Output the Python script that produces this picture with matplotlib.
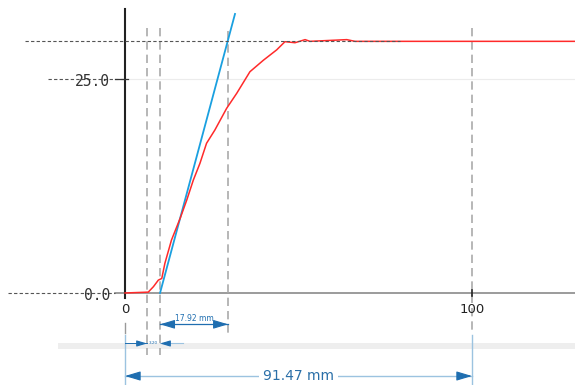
import numpy as np
import matplotlib.pyplot as plt

red_x = [0, 6.7, 8.2, 9.6, 10.6, 11.5, 13.4, 15.9, 17.8, 19.7, 21.6, 23.5, 25.9,
         29.3, 32.2, 36.0, 39.9, 43.7, 46.1, 49.0, 51.9, 53.3, 63.9, 66.3, 129.7]
red_y = [0, 0.1, 0.74, 1.5, 1.7, 3.47, 6.19, 8.73, 10.86, 13.2, 15.15, 17.49, 19.04,
         21.58, 23.33, 25.85, 27.2, 28.4, 29.36, 29.24, 29.6, 29.4, 29.6, 29.4, 29.4]

# tangent line (blue)
tan_x = [10.1, 31.7]
tan_y = [0, 32.6]

plateau = 29.4
guide_x = [6.34, 10.1, 29.7, 100]
yticks = [0, 25]
ytick_labels = ['0.0', '25.0']
xticks = [0, 100]
xtick_labels = ['0', '100']
dim_small = '3.20'
dim_mid = '17.92 mm'
dim_total = '91.47 mm'

dark_blue = '#1f6eb0'
light_blue = '#9cc3e0'


def head(ax, tip, tail, size, color, z=6):
    # filled arrow head only (short shaft hidden under the head)
    ax.annotate('', xy=tip, xytext=tail,
                arrowprops=dict(arrowstyle='-|>,head_length=1.0,head_width=0.3',
                                mutation_scale=size, color=color, lw=0.8,
                                shrinkA=0, shrinkB=0), zorder=z)


fig = plt.figure(figsize=(5.75, 3.85), dpi=100)
ax = fig.add_axes([0, 0, 1, 1])
ax.set_xlim(-36.02, 129.68)
ax.set_ylim(-10.75, 34.23)
ax.axis('off')

# light grid + axis lines
ax.plot([0, 129.7], [25, 25], color='#ececec', lw=0.8, zorder=1)
ax.plot([-2.9, 129.7], [0, 0], color='#8a8a8a', lw=1.2, zorder=2)
ax.plot([0, 0], [-0.6, 33.2], color='#222222', lw=1.5, zorder=4)
ax.plot([0, 0], [-3.5, -4.7], color='#999999', lw=1.0, zorder=2)

# gray band
ax.fill_between([-19.3, 129.7], -6.54, -5.84, color='#eeeeee', lw=0, zorder=1)

# dashed horizontals
ax.plot([-28.8, 79.2], [plateau, plateau], color='#555555', lw=0.8, ls=(0, (3, 2)), zorder=5)
ax.plot([-22.2, 0], [25, 25], color='#555555', lw=0.8, ls=(0, (3, 2)), zorder=2)
ax.plot([-33.7, -2.9], [0, 0], color='#555555', lw=0.8, ls=(0, (3, 2)), zorder=2)

# dashed verticals
ax.plot([guide_x[0]] * 2, [30.96, -7.24], color='#aaaaaa', lw=1.2, ls=(0, (5, 3)), zorder=2)
ax.plot([guide_x[1]] * 2, [30.96, -7.24], color='#aaaaaa', lw=1.2, ls=(0, (5, 3)), zorder=2)
ax.plot([guide_x[2]] * 2, [30.6, -4.67], color='#aaaaaa', lw=1.2, ls=(0, (5, 3)), zorder=2)
ax.plot([guide_x[3]] * 2, [30.96, -4.32], color='#aaaaaa', lw=1.2, ls=(0, (5, 3)), zorder=2)

# curves
ax.plot(red_x, red_y, color='#ff2a2a', lw=1.1, zorder=4)
ax.plot(tan_x, tan_y, color='#1aa0e0', lw=1.3, zorder=3)

# ticks
for yv, lab in zip(yticks, ytick_labels):
    ax.text(-4.3, yv - 0.35, lab, ha='right', va='center', fontsize=10.5,
            family='DejaVu Sans Mono', color='#333333', zorder=6)
ax.plot([-2.9, 0.9], [25, 25], color='#333333', lw=0.9, zorder=5)
for xv, lab in zip(xticks, xtick_labels):
    ax.text(xv, -1.9, lab, ha='center', va='center', fontsize=9.5, color='#222222', zorder=6)
ax.plot([100, 100], [0.35, -0.35], color='#222222', lw=1.2, zorder=5)

# 17.92 mm dimension
ax.plot([guide_x[1], guide_x[2]], [-3.66, -3.66], color=dark_blue, lw=0.9, zorder=5)
head(ax, (guide_x[1], -3.66), (guide_x[1] + 3.3, -3.66), 9, dark_blue)
head(ax, (guide_x[2], -3.66), (guide_x[2] - 3.3, -3.66), 9, dark_blue)
ax.text((guide_x[1] + guide_x[2]) / 2, -2.95, dim_mid, ha='center', va='center',
        fontsize=5.5, color=dark_blue, zorder=6)

# 3.20 dimension (arrows pointing inward)
ax.plot([0, guide_x[0]], [-5.9, -5.9], color=dark_blue, lw=0.7, zorder=5)
ax.plot([guide_x[1], 16.6], [-5.9, -5.9], color=light_blue, lw=0.8, zorder=5)
head(ax, (guide_x[0], -5.9), (guide_x[0] - 2.2, -5.9), 6, dark_blue)
head(ax, (guide_x[1], -5.9), (guide_x[1] + 2.2, -5.9), 6, dark_blue)
ax.text((guide_x[0] + guide_x[1]) / 2, -5.9, dim_small, ha='center', va='center',
        fontsize=3, color=dark_blue, zorder=6)

# 91.47 mm total dimension
for xv in [0, 100]:
    ax.plot([xv, xv], [-4.9, -10.75], color=light_blue, lw=1.0, zorder=3)
ax.plot([0, 100], [-9.7, -9.7], color=light_blue, lw=1.0, zorder=3)
head(ax, (0, -9.7), (3.8, -9.7), 9.5, dark_blue)
head(ax, (100, -9.7), (96.2, -9.7), 9.5, dark_blue)
ax.text(50, -9.7, dim_total, ha='center', va='center', fontsize=10, color='#2a6fa8',
        bbox=dict(facecolor='white', edgecolor='none', pad=3), zorder=6)

fig.savefig('out.png', dpi=100)
